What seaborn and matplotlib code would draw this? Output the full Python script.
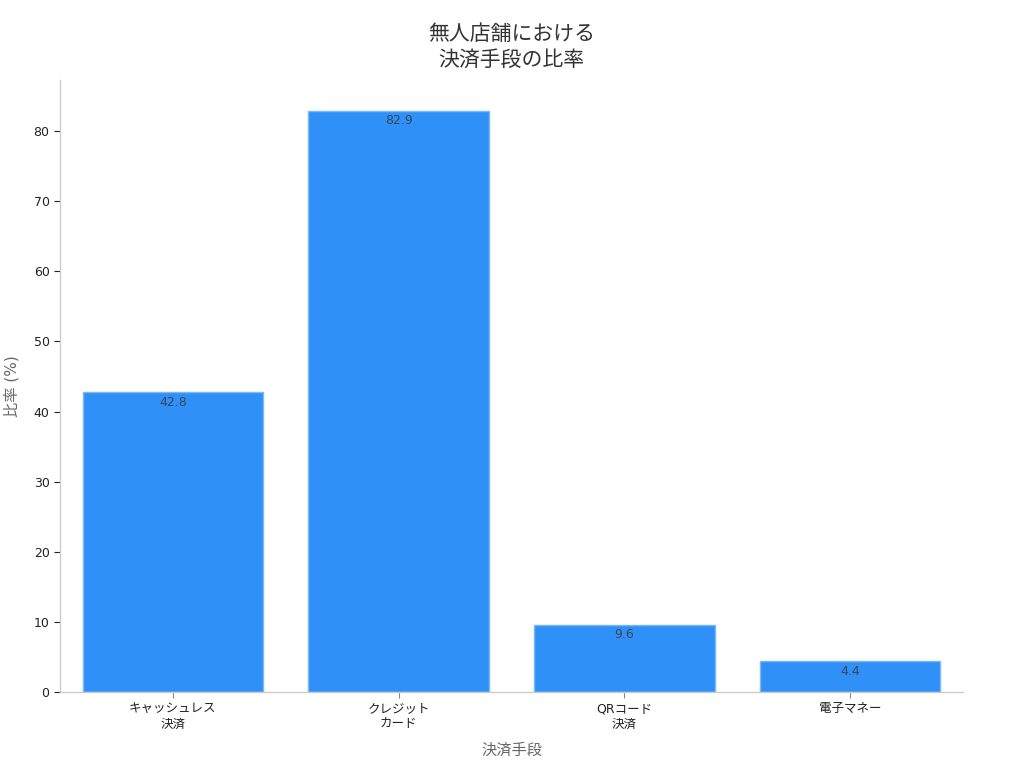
import pandas as pd
import matplotlib
matplotlib.use('Agg')
import matplotlib.pyplot as plt
import seaborn as sns

# データ
categories = ['キャッシュレス\n決済', 'クレジット\nカード', 'QRコード\n決済', '電子マネー']
values = [42.8, 82.9, 9.6, 4.4]

df = pd.DataFrame({'決済手段': categories, '比率': values})

sns.set_style('ticks')
plt.rcParams['font.family'] = ['DejaVu Sans', 'Noto Sans CJK JP']

fig = plt.figure(figsize=(10.24, 7.68), dpi=100)
ax = fig.add_axes([0.0586, 0.099, 0.8818, 0.797])

sns.barplot(data=df, x='決済手段', y='比率', color='#2f91f7', saturation=1,
            width=0.8, edgecolor='#7cb8f5', linewidth=1, ax=ax)

for c in ax.containers:
    ax.bar_label(c, labels=[f'{v:.1f}' for v in values], padding=-12,
                 fontsize=9, color='#3a4656')

ax.set_xlim(-0.5, 3.5)
ax.set_ylim(0, 87.3)
ax.set_title('無人店舗における\n決済手段の比率', fontsize=15, color='#333333',
             linespacing=1.35, pad=10)
ax.set_xlabel('決済手段', fontsize=11, color='#666666', labelpad=9)
ax.set_ylabel('比率 (%)', fontsize=11, color='#666666', labelpad=10)

ax.tick_params(axis='both', labelsize=9, colors='#222222', length=4, width=0.8)
ax.tick_params(axis='x', colors='#888888', labelcolor='#222222')
for s in ['top', 'right']:
    ax.spines[s].set_visible(False)
for s in ['left', 'bottom']:
    ax.spines[s].set_color('#cccccc')
    ax.spines[s].set_linewidth(1)

fig.savefig('out.png', dpi=100)
